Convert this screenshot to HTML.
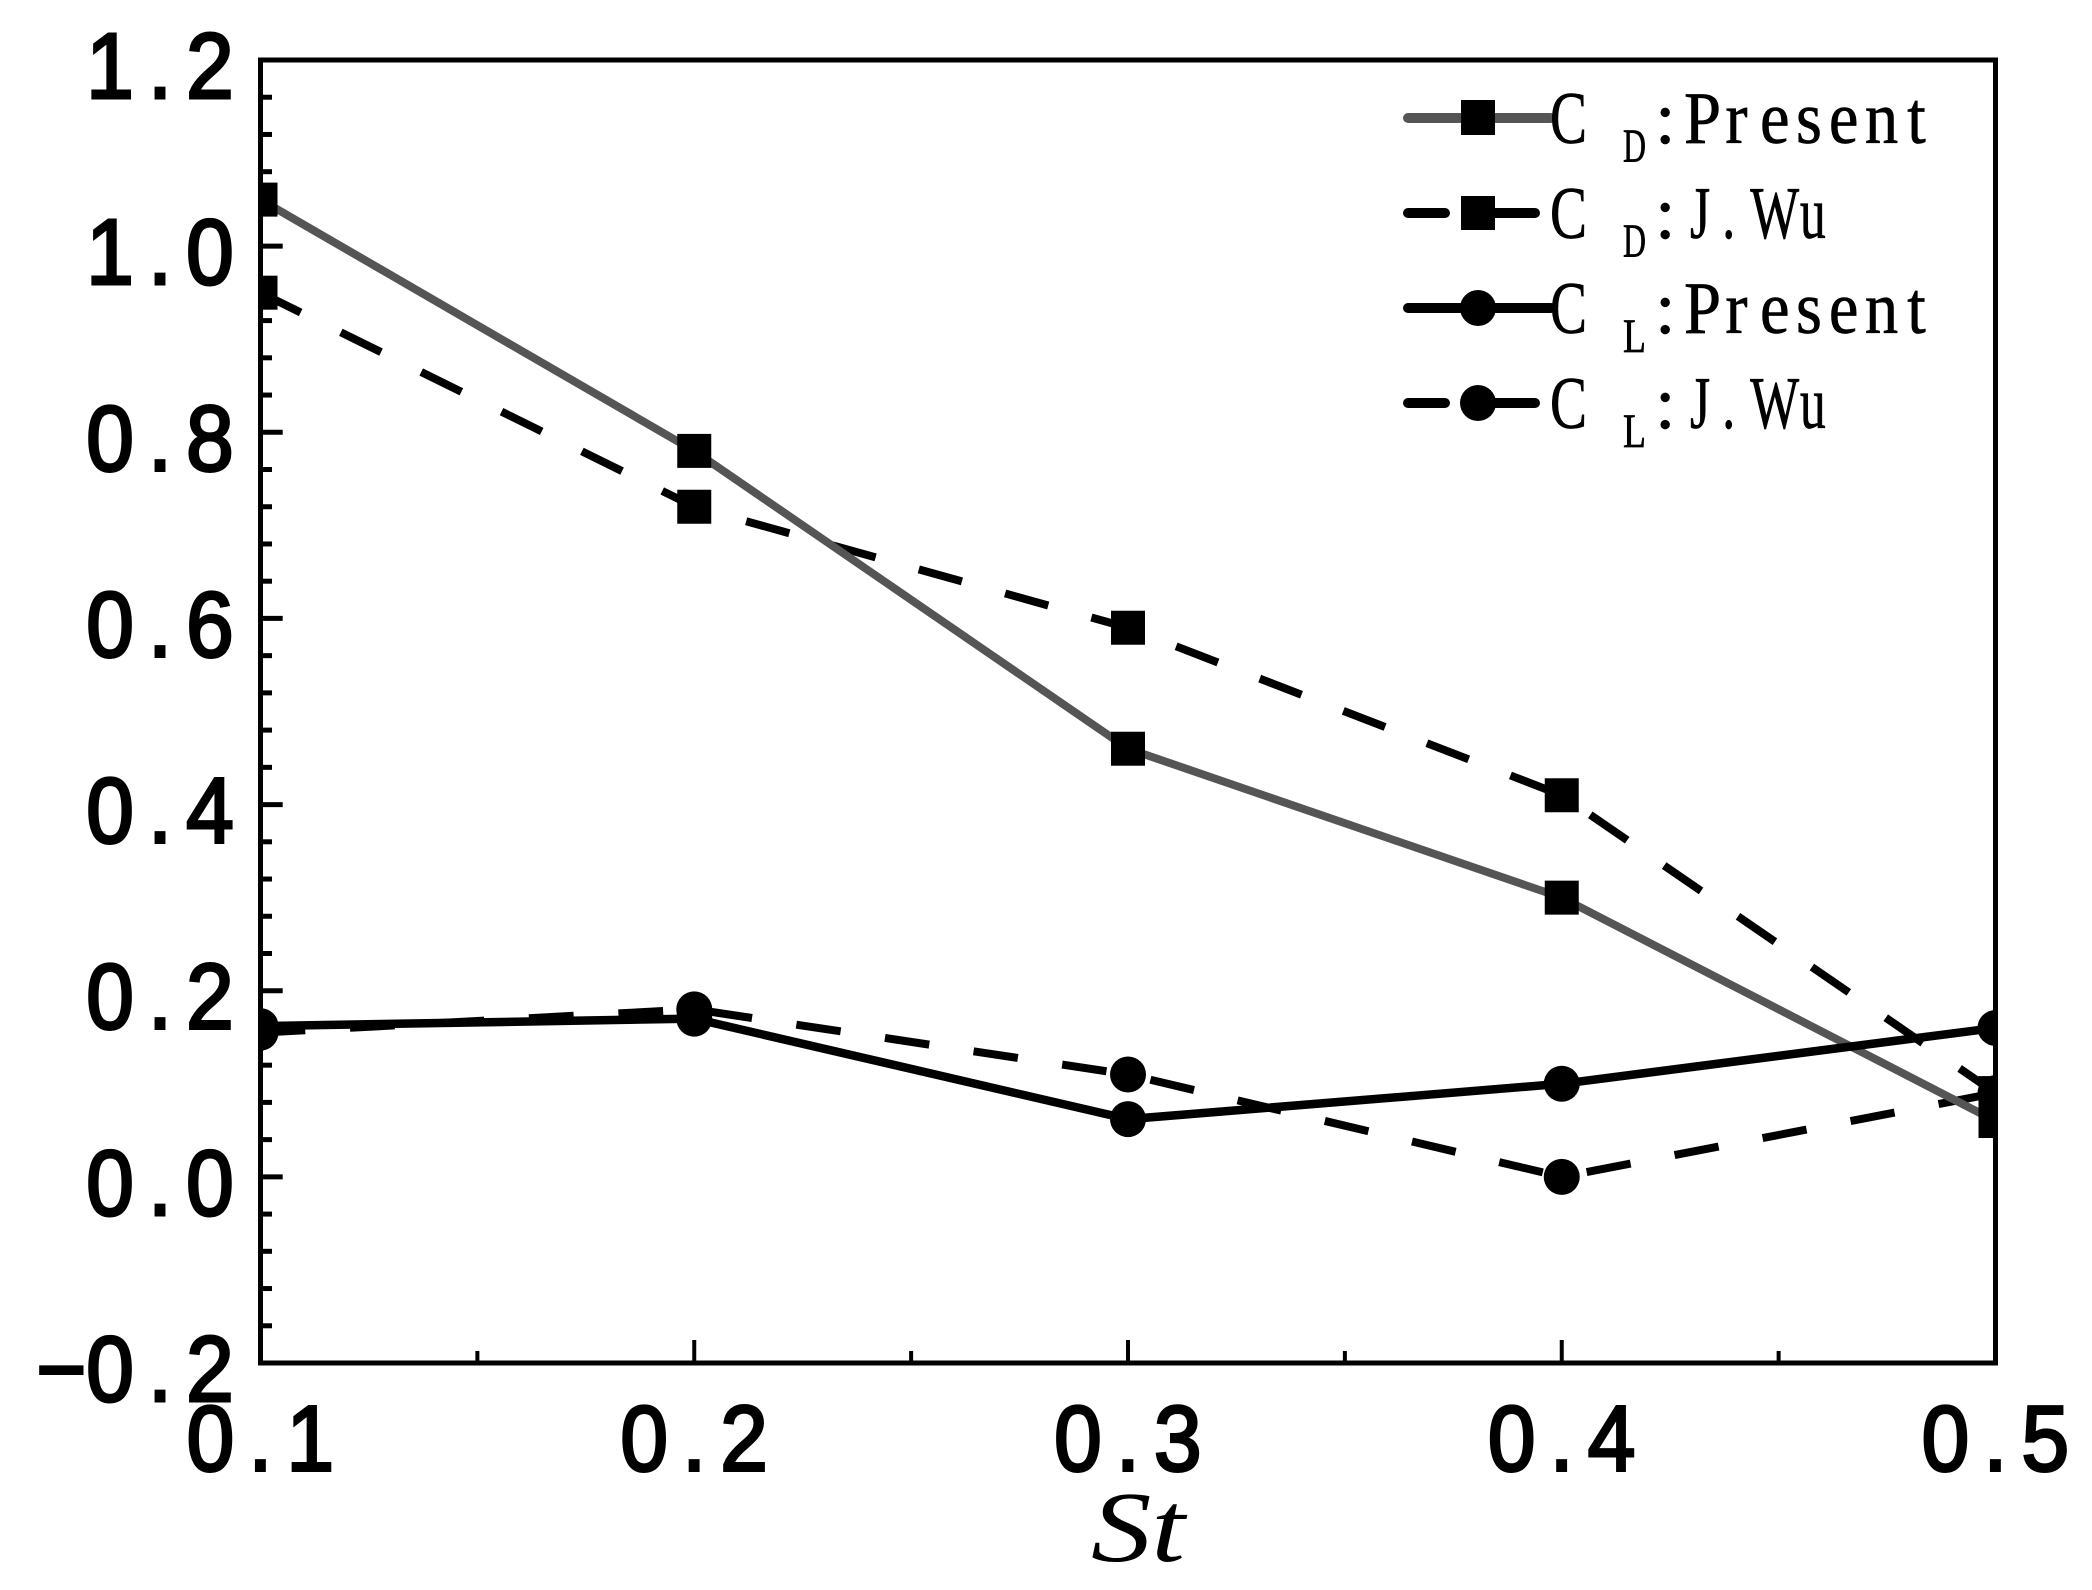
<!DOCTYPE html>
<html lang="en">
<head>
<meta charset="utf-8">
<title>Force coefficients versus St</title>
<style>
html,body{margin:0;padding:0;background:#fff;width:2092px;height:1590px;overflow:hidden}
svg{display:block}
.tick-label{font-family:"Liberation Sans",sans-serif;font-size:93px;fill:#000;stroke:#000;stroke-width:3px;letter-spacing:15.5px}
.legend-text{font-family:"Liberation Serif",serif;fill:#000;stroke:#000;stroke-width:.7px}
</style>
</head>
<body>
<svg id="chart" xmlns="http://www.w3.org/2000/svg" width="2092" height="1590" viewBox="0 0 2092 1590">
  <defs>
    <clipPath id="plot-clip"><rect x="260" y="58" width="1736" height="1306"/></clipPath>
  </defs>
  <rect x="0" y="0" width="2092" height="1590" fill="#fff"/>
  <g id="series-layer" clip-path="url(#plot-clip)"></g>
  <rect x="260.5" y="60" width="1735" height="1303" fill="none" stroke="#000" stroke-width="5"/>
  <g id="tick-layer"></g>
  <g id="label-layer"></g>
  <text x="1091" y="1561" font-family="'Liberation Serif',serif" font-style="italic" font-size="101" textLength="94" lengthAdjust="spacingAndGlyphs" fill="#000">St</text>

  <g>
    <g>
      <line x1="1408" y1="118" x2="1551" y2="118" stroke="#555" stroke-width="10" stroke-linecap="round"/>
      <rect x="1461" y="100" width="34" height="35" fill="#000"/>
      <text class="legend-text" x="1550" y="143" font-size="74" textLength="37" lengthAdjust="spacingAndGlyphs">C</text>
      <text class="legend-text" x="1623" y="162" font-size="48" textLength="23" lengthAdjust="spacingAndGlyphs">D</text>
      <text class="legend-text" x="1655" y="143" font-size="74">:</text>
      <text class="legend-text" transform="translate(1684,143) scale(.9,1)" x="0 46 84.4 124.4 161 201 248" y="0" font-size="74">Present</text>
    </g>
    <g>
      <line x1="1408" y1="213" x2="1445" y2="213" stroke="#000" stroke-width="10" stroke-linecap="round"/>
      <line x1="1494" y1="213" x2="1535" y2="213" stroke="#000" stroke-width="10" stroke-linecap="round"/>
      <rect x="1461" y="196" width="34" height="34" fill="#000"/>
      <text class="legend-text" x="1550" y="238" font-size="74" textLength="37" lengthAdjust="spacingAndGlyphs">C</text>
      <text class="legend-text" x="1623" y="257" font-size="48" textLength="23" lengthAdjust="spacingAndGlyphs">D</text>
      <text class="legend-text" x="1655" y="238" font-size="74">:</text>
      <text class="legend-text" transform="translate(1690,238) scale(.7,1)" x="0 46 86 157" y="0" font-size="74">J.Wu</text>
    </g>
    <g>
      <line x1="1408" y1="308" x2="1551" y2="308" stroke="#000" stroke-width="10" stroke-linecap="round"/>
      <circle cx="1478" cy="308" r="18" fill="#000"/>
      <text class="legend-text" x="1550" y="333" font-size="74" textLength="37" lengthAdjust="spacingAndGlyphs">C</text>
      <text class="legend-text" x="1623" y="352" font-size="48" textLength="23" lengthAdjust="spacingAndGlyphs">L</text>
      <text class="legend-text" x="1655" y="333" font-size="74">:</text>
      <text class="legend-text" transform="translate(1684,333) scale(.9,1)" x="0 46 84.4 124.4 161 201 248" y="0" font-size="74">Present</text>
    </g>
    <g>
      <line x1="1408" y1="403" x2="1445" y2="403" stroke="#000" stroke-width="10" stroke-linecap="round"/>
      <line x1="1494" y1="403" x2="1535" y2="403" stroke="#000" stroke-width="10" stroke-linecap="round"/>
      <circle cx="1478" cy="403" r="18" fill="#000"/>
      <text class="legend-text" x="1550" y="428" font-size="74" textLength="37" lengthAdjust="spacingAndGlyphs">C</text>
      <text class="legend-text" x="1623" y="447" font-size="48" textLength="23" lengthAdjust="spacingAndGlyphs">L</text>
      <text class="legend-text" x="1655" y="428" font-size="74">:</text>
      <text class="legend-text" transform="translate(1690,428) scale(.7,1)" x="0 46 86 157" y="0" font-size="74">J.Wu</text>
    </g>
  </g>
</svg>
<script>
const categories = [0.1, 0.2, 0.3, 0.4, 0.5];
const cdPresent = [1.05, 0.78, 0.46, 0.30, 0.06];
const cdWu = [0.95, 0.72, 0.59, 0.41, 0.09];
const clPresent = [0.162, 0.17, 0.062, 0.10, 0.16];
const clWu = [0.155, 0.18, 0.11, 0.0, 0.09];
const xTickLabels = ['0.1', '0.2', '0.3', '0.4', '0.5'];
const yTickValues = [-0.2, 0.0, 0.2, 0.4, 0.6, 0.8, 1.0, 1.2];
const yTickLabels = ['\u22120.2', '0.0', '0.2', '0.4', '0.6', '0.8', '1.0', '1.2'];

const NS = 'http://www.w3.org/2000/svg';
const xMin = 0.1, xMax = 0.5, yMin = -0.2, yMax = 1.2;
const plotLeft = 260.5, plotRight = 1995.5, plotTop = 60, plotBottom = 1363;
function xScale(v) { return plotLeft + (v - xMin) / (xMax - xMin) * (plotRight - plotLeft); }
function yScale(v) { return plotBottom - (v - yMin) / (yMax - yMin) * (plotBottom - plotTop); }

const seriesLayer = document.getElementById('series-layer');
const tickLayer = document.getElementById('tick-layer');
const labelLayer = document.getElementById('label-layer');

function drawLine(values, name, color, width, dashed) {
  const line = document.createElementNS(NS, 'polyline');
  
  
  line.setAttribute('points', values.map(function (v, i) { return xScale(categories[i]) + ',' + yScale(v); }).join(' '));
  line.setAttribute('fill', 'none');
  line.setAttribute('stroke', color);
  line.setAttribute('stroke-width', width);
  line.setAttribute('stroke-linejoin', 'round');
  if (dashed) line.setAttribute('stroke-dasharray', '44.8 44.8');
  seriesLayer.appendChild(line);
}
function drawSquares(values, name) {
  values.forEach(function (v, i) {
    const m = document.createElementNS(NS, 'rect');
    
    
    m.setAttribute('x', xScale(categories[i]) - 17);
    m.setAttribute('y', yScale(v) - 17);
    m.setAttribute('width', 34);
    m.setAttribute('height', 34);
    m.setAttribute('fill', '#000');
    seriesLayer.appendChild(m);
  });
}
function drawCircles(values, name) {
  values.forEach(function (v, i) {
    const m = document.createElementNS(NS, 'circle');
    
    
    m.setAttribute('cx', xScale(categories[i]));
    m.setAttribute('cy', yScale(v));
    m.setAttribute('r', 18);
    m.setAttribute('fill', '#000');
    seriesLayer.appendChild(m);
  });
}

drawLine(cdWu, 'cd-wu-line', '#000', 8, true);
drawLine(clWu, 'cl-wu-line', '#000', 8, true);
drawLine(cdPresent, 'cd-present-line', '#555', 8, false);
drawLine(clPresent, 'cl-present-line', '#000', 8.5, false);
drawSquares(cdPresent, 'cd-present-point');
drawSquares(cdWu, 'cd-wu-point');
drawCircles(clPresent, 'cl-present-point');
drawCircles(clWu, 'cl-wu-point');

function addTick(x1, y1, x2, y2, w, name) {
  const t = document.createElementNS(NS, 'line');
  
  
  t.setAttribute('x1', x1);
  t.setAttribute('y1', y1);
  t.setAttribute('x2', x2);
  t.setAttribute('y2', y2);
  t.setAttribute('stroke', '#000');
  t.setAttribute('stroke-width', w);
  tickLayer.appendChild(t);
}
yTickValues.forEach(function (v, i) {
  if (i > 0 && i < yTickValues.length - 1) addTick(plotLeft, yScale(v), 282.7, yScale(v), 5, 'y-major-tick');
  if (i < yTickValues.length - 1) {
    const step = (yTickValues[i + 1] - v) / 5;
    for (let k = 1; k < 5; k++) addTick(plotLeft, yScale(v + k * step), 272, yScale(v + k * step), 5, 'y-minor-tick');
  }
});
categories.forEach(function (v, i) {
  if (i > 0 && i < categories.length - 1) addTick(xScale(v), plotBottom, xScale(v), 1340, 4, 'x-major-tick');
  if (i < categories.length - 1) {
    const mid = (v + categories[i + 1]) / 2;
    addTick(xScale(mid), plotBottom, xScale(mid), 1351, 4, 'x-minor-tick');
  }
});

xTickLabels.forEach(function (s, i) {
  const t = document.createElementNS(NS, 'text');
  
  
  t.setAttribute('class', 'tick-label');
  t.setAttribute('transform', 'translate(' + (xScale(categories[i]) + 7) + ',1470.5) scale(.92,1)');
  t.setAttribute('text-anchor', 'middle');
  t.textContent = s;
  labelLayer.appendChild(t);
});
yTickLabels.forEach(function (s, i) {
  const t = document.createElementNS(NS, 'text');
  
  
  t.setAttribute('class', 'tick-label');
  t.setAttribute('transform', 'translate(248,' + (yScale(yTickValues[i]) + 38) + ') scale(.92,1)');
  t.setAttribute('text-anchor', 'end');
  if (s.charAt(0) === '\u2212') {
    const minus = document.createElementNS(NS, 'tspan');
    
    
    minus.setAttribute('style', 'letter-spacing:0');
    minus.textContent = s.charAt(0);
    t.appendChild(minus);
    t.appendChild(document.createTextNode(s.slice(1)));
  } else {
    t.textContent = s;
  }
  labelLayer.appendChild(t);
});
</script>
</body>
</html>
